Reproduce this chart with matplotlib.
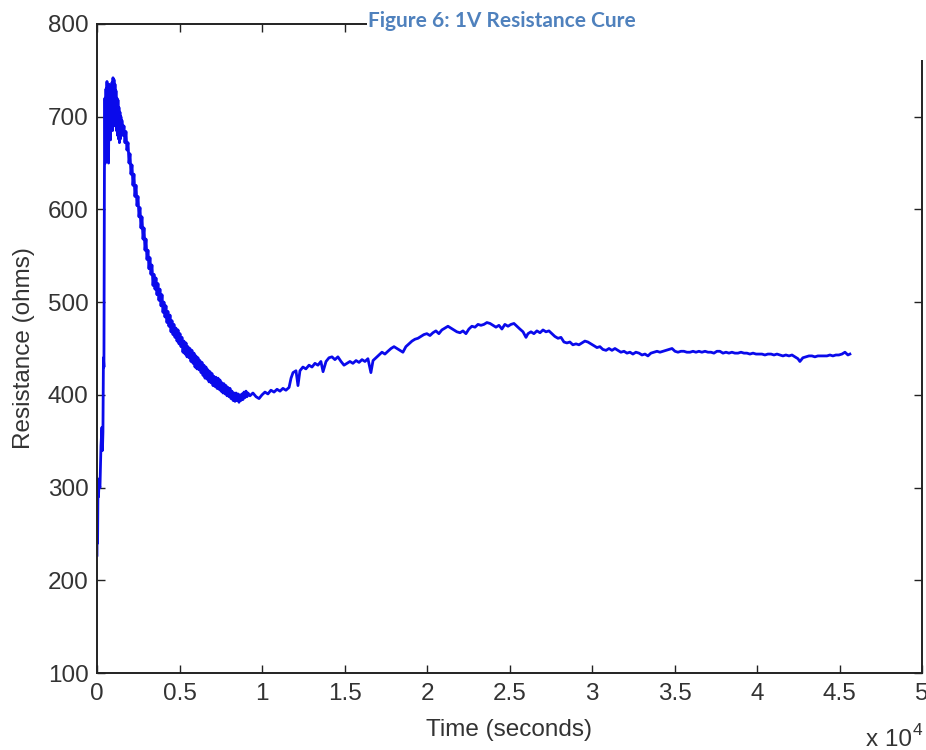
import matplotlib
matplotlib.use("Agg")
import matplotlib.pyplot as plt
from matplotlib.patches import Rectangle
from matplotlib.ticker import FixedLocator

plt.rcParams['font.family'] = ['Liberation Sans', 'DejaVu Sans']

title_text = "Figure 6: 1V Resistance Cure"
x_label = "Time (seconds)"
y_label = "Resistance (ohms)"
x_ticks = [0, 0.5, 1, 1.5, 2, 2.5, 3, 3.5, 4, 4.5, 5]
x_tick_labels = ["0", "0.5", "1", "1.5", "2", "2.5", "3", "3.5", "4", "4.5", "5"]
y_ticks = [100, 200, 300, 400, 500, 600, 700, 800]

# time (s) and resistance (ohms)
time_early = [0, 15, 35, 60, 90, 120, 180, 240, 300, 330, 360, 390, 420,
              450, 480, 510, 545, 575, 605, 640, 670, 700, 730, 760, 790, 820, 850, 880,
              910, 940, 970, 1000, 1030, 1060, 1090, 1120, 1150, 1180, 1210, 1240, 1270,
              1300, 1330, 1360, 1390, 1420, 1450, 1480, 1510,
              1575, 1635, 1695, 1755, 1815, 1880, 1940, 2000, 2060, 2120, 2180, 2240, 2300,
              2365, 2425, 2485, 2545, 2605, 2665, 2725, 2790, 2850, 2910, 2970, 3030, 3090,
              3150, 3210, 3270, 3330, 3395, 3455, 3515, 3575, 3635, 3695, 3755, 3815, 3880,
              3940, 4000, 4060, 4120, 4180, 4240, 4300, 4360, 4425, 4485, 4545, 4605, 4665,
              4725, 4785, 4850, 4910, 4970, 5030, 5090, 5150, 5210, 5270, 5335, 5395, 5455,
              5515, 5575, 5635, 5695, 5755, 5820, 5880, 5940, 6000, 6060, 6120, 6180, 6240,
              6305, 6365, 6425, 6485, 6545, 6605, 6665, 6725, 6790, 6850, 6910, 6970, 7030,
              7090, 7150, 7210, 7275, 7335, 7395, 7455, 7515, 7575, 7635, 7695, 7760, 7820,
              7880, 7940, 8000, 8060, 8120, 8180, 8245, 8305, 8365, 8425, 8485, 8545, 8605,
              8665, 8730, 8790, 8850, 8910, 8970, 9030, 9090, 9150, 9270]
res_early = [227, 310, 240, 300, 290, 305, 300, 345, 365, 340, 360, 440, 430,
             640, 720, 650, 730, 670, 738, 660, 725, 650, 735, 680, 728, 675, 732, 690,
             737, 685, 742, 690, 740, 695, 735, 690, 728, 685, 720, 680, 718,
             676, 710, 672, 705, 676, 700, 680, 696,
             680, 690, 672, 684, 664, 672, 650, 660, 638, 648, 626, 638, 614,
             626, 604, 614, 592, 602, 580, 592, 568, 580, 556, 568, 546, 556,
             536, 548, 530, 540, 518, 530, 514, 526, 508, 520, 502, 514, 496,
             508, 489, 500, 484, 496, 478, 490, 474, 486, 468, 480, 465, 476,
             462, 472, 458, 470, 455, 466, 452, 462, 446, 458, 444, 456, 441,
             452, 440, 450, 436, 448, 434, 445, 430, 442, 428, 440, 427, 437,
             424, 435, 421, 432, 418, 430, 417, 427, 414, 425, 413, 423, 410,
             420, 409, 419, 407, 418, 406, 416, 404, 413, 402, 412, 401, 410,
             399, 408, 398, 407, 396, 404, 394, 402, 393, 402, 394, 401, 392,
             400, 394, 401, 395, 403, 397, 404, 398, 402, 399]

time_late = [9450, 9640, 9820, 10000, 10180, 10360, 10540, 10730, 10910, 11090, 11270, 11450,
             11640, 11760, 11880, 12060, 12180, 12300, 12480, 12660, 12850, 13030, 13210,
             13390, 13570, 13700, 13880, 14060, 14240, 14420, 14600, 14790, 14970, 15150,
             15330, 15510, 15700, 15880, 16060, 16240, 16420, 16600, 16730, 16910, 17090,
             17270, 17450, 17630, 17820, 18000, 18180, 18360, 18540, 18720, 18910, 19090,
             19270, 19450, 19630, 19810, 19990, 20180, 20360, 20540, 20720, 20900, 21090,
             21270, 21450, 21630, 21810, 22000, 22180, 22360, 22540, 22720, 22910, 23090,
             23270, 23450, 23630, 23820, 24000, 24180, 24360, 24540, 24720, 24910, 25090,
             25270, 25450, 25630, 25820, 26000, 26120, 26300, 26480, 26660, 26850, 27030,
             27210, 27390, 27570, 27750, 27940, 28120, 28300, 28480, 28660, 28840, 29030,
             29210, 29390, 29570, 29750, 29940, 30120, 30300, 30480, 30660, 30850, 31030,
             31210, 31390, 31570, 31750, 31940, 32120, 32300, 32480, 32660, 32850, 33030,
             33210, 33390, 33570, 33760, 33940, 34120, 34300, 34480, 34660, 34850, 35030,
             35210, 35390, 35570, 35750, 35940, 36120, 36300, 36480, 36660, 36850, 37030,
             37210, 37390, 37570, 37750, 37940, 38120, 38300, 38480, 38660, 38850, 39030,
             39210, 39390, 39570, 39760, 39940, 40120, 40300, 40480, 40660, 40850, 41030,
             41210, 41390, 41570, 41750, 41940, 42120, 42300, 42480, 42600, 42780, 42970,
             43150, 43330, 43510, 43690, 43870, 44060, 44240, 44420, 44600, 44780, 44960,
             45150, 45330, 45510, 45630]
res_late = [402, 398, 396, 400, 403, 401, 405, 403, 406, 404, 407, 405,
            408, 418, 424, 426, 410, 426, 430, 428, 432, 430, 434,
            432, 436, 425, 436, 440, 441, 438, 441, 436, 432, 434,
            436, 434, 437, 435, 438, 436, 439, 424, 437, 440, 443,
            446, 444, 447, 450, 452, 450, 448, 446, 452, 455, 458,
            460, 461, 463, 465, 466, 464, 467, 469, 466, 470, 472,
            474, 472, 470, 468, 467, 469, 466, 471, 474, 473, 476,
            475, 476, 478, 477, 475, 473, 475, 471, 476, 474, 476,
            477, 474, 471, 468, 462, 466, 468, 466, 469, 467, 470,
            468, 469, 466, 463, 461, 462, 457, 456, 457, 454, 455,
            454, 456, 458, 457, 455, 453, 451, 452, 449, 448, 450,
            448, 450, 448, 446, 447, 445, 446, 444, 446, 445, 443,
            444, 442, 445, 446, 447, 446, 447, 448, 449, 450, 447,
            446, 447, 447, 446, 446, 447, 446, 447, 446, 447, 446,
            446, 445, 447, 447, 445, 446, 445, 446, 445, 445, 446,
            445, 445, 444, 445, 444, 444, 444, 443, 444, 444, 443,
            444, 443, 442, 443, 442, 443, 441, 439, 436, 440, 441,
            442, 442, 441, 442, 442, 442, 442, 443, 442, 443, 443,
            444, 446, 443, 444]

time_s = time_early + time_late
resistance = res_early + res_late

W, H = 926, 750
fig = plt.figure(figsize=(W / 100, H / 100), dpi=100)
L, R, B, T = 97, 922, 673, 24
ax = fig.add_axes([L / W, (H - B) / H, (R - L) / W, (B - T) / H])

ax.plot([t / 1e4 for t in time_s], resistance, color=(0.04, 0.04, 0.92), lw=2.0)

ax.set_xlim(0, 5)
ax.set_ylim(100, 800)
ax.xaxis.set_major_locator(FixedLocator(x_ticks))
ax.set_xticklabels(x_tick_labels)
ax.set_yticks(y_ticks)
ax.tick_params(direction='in', length=6, width=1.0, colors='#222222', labelsize=17.5,
               top=True, right=True)
ax.tick_params(axis='x', pad=7)
ax.tick_params(axis='y', pad=6)
for lbl in ax.get_xticklabels() + ax.get_yticklabels():
    lbl.set_color('#333333')
for s in ax.spines.values():
    s.set_linewidth(1.4)
    s.set_color('#222222')

ax.set_xlabel(x_label, fontsize=17.5, color='#333333', labelpad=10)
ax.set_ylabel(y_label, fontsize=17.5, color='#333333', labelpad=9)

# multiplier
fig.text(866 / W, 1 - 746 / H, "x 10", fontsize=17.5, color='#333333', ha='left', va='baseline')
fig.text(913 / W, 1 - 735 / H, "4", fontsize=12.5, color='#333333', ha='left', va='baseline')

# caption box covering the top-right of the plot frame
fig.add_artist(Rectangle((367 / W, 1 - 60 / H), (W - 367) / W, 60 / H,
                         transform=fig.transFigure, facecolor='white', edgecolor='none',
                         zorder=5))
fig.text(368 / W, 1 - 27 / H, title_text, fontsize=15, fontweight='bold',
         family=['Lato', 'DejaVu Sans'], color='#4f81bd', ha='left', va='baseline', zorder=6)

fig.savefig("out.png", dpi=100)
